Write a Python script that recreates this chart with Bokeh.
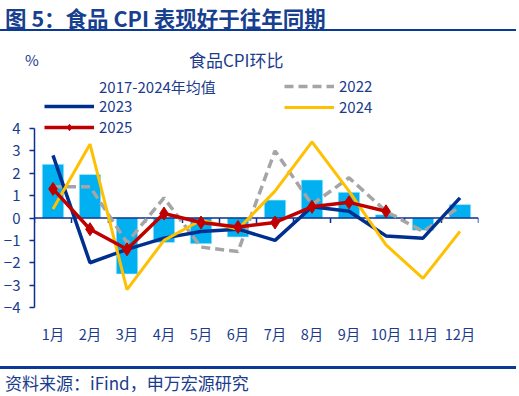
from bokeh.plotting import figure
from bokeh.models import (ColumnDataSource, FixedTicker, Legend, LegendItem, Div, Range1d)
from bokeh.layouts import column
from bokeh.embed import file_html
from bokeh.resources import INLINE

# ---------------- data ----------------
months = ["1月", "2月", "3月", "4月", "5月", "6月", "7月", "8月", "9月", "10月", "11月", "12月"]
avg_2017_2024 = [2.4, 1.95, -2.5, -1.1, -1.15, -0.85, 0.8, 1.7, 1.15, 0.15, -0.55, 0.6]
cpi_2022 = [1.4, 1.4, -1.1, 0.9, -1.3, -1.5, 3.0, 0.6, 1.8, 0.3, -0.6, 0.5]
cpi_2023 = [2.8, -2.0, -1.4, -0.9, -0.6, -0.5, -1.0, 0.5, 0.3, -0.8, -0.9, 0.9]
cpi_2024 = [0.4, 3.3, -3.2, -1.0, -0.1, -0.5, 1.2, 3.4, 1.2, -1.2, -2.7, -0.6]
cpi_2025 = [1.3, -0.5, -1.4, 0.2, -0.2, -0.4, -0.2, 0.5, 0.7, 0.3]
y_ticks = [-4, -3, -2, -1, 0, 1, 2, 3, 4]

title_text = "图 5：食品 CPI 表现好于往年同期"
chart_title = "食品CPI环比"
unit_text = "%"
source_text = "资料来源：iFind，申万宏源研究"

# ---------------- styles ----------------
FONT = "Noto Sans CJK SC"
TXT = "#1B3C8C"
NAVY = "#0A2F8F"
RULE = "#0B3A96"
C_BAR = "#00B0F0"
C_2022 = "#A5A5A5"
C_2023 = "#00308F"
C_2024 = "#FFC000"
C_2025 = "#C00000"

W = 503
H_HEAD, H_MAIN, H_FOOT = 65, 275, 40


def abs_text(txt, left, top, size, color=TXT, weight="normal"):
    return (f'<div style="position:absolute;left:{left}px;top:{top}px;'
            f'font-family:\'{FONT}\';font-size:{size}px;line-height:1;'
            f'font-weight:{weight};color:{color};white-space:nowrap;">{txt}</div>')


def abs_rule(top, height):
    return (f'<div style="position:absolute;left:-8px;top:{top}px;width:{W + 16}px;'
            f'height:{height}px;background:{RULE};"></div>')


# ---------------- header ----------------
head_html = (f'<div style="position:relative;width:{W}px;height:{H_HEAD}px;">'
             + abs_text(title_text, 0, 1.5, 21.5, "#17408F", "bold")
             + abs_rule(24, 2.3)
             + abs_text(unit_text, 20, 47, 15)
             + abs_text(chart_title, 184, 46, 17)
             + '</div>')
head = Div(text=head_html, width=W, height=H_HEAD)

# ---------------- main chart ----------------
n = len(months)
xs = list(range(1, n + 1))

p = figure(width=W, height=H_MAIN, output_backend="svg", toolbar_location=None,
           x_range=Range1d(0.5, n + 0.5), y_range=Range1d(-4, 6.37),
           min_border_left=30, min_border_right=25, min_border_top=0, min_border_bottom=43)
p.outline_line_color = None
p.grid.visible = False

src_bar = ColumnDataSource(dict(x=xs, y=avg_2017_2024))
r_bar = p.vbar(x="x", top="y", bottom=0, width=0.58, source=src_bar,
               fill_color=C_BAR, line_color="#BFEFFF", line_width=0.6)

# zero axis line + category boundary ticks
bounds = [i + 0.5 for i in range(0, n + 1)]
p.segment(x0=[0.5], y0=[0], x1=[n + 0.5], y1=[0], line_color=NAVY, line_width=1.5)
p.segment(x0=bounds, y0=[0] * len(bounds), x1=bounds, y1=[-0.22] * len(bounds),
          line_color=NAVY, line_width=1.5)

r22 = p.line(xs, cpi_2022, line_color=C_2022, line_width=3.5, line_dash="9 5")
r23 = p.line(xs, cpi_2023, line_color=C_2023, line_width=3.5)
r24 = p.line(xs, cpi_2024, line_color=C_2024, line_width=3)
x25 = xs[:len(cpi_2025)]
r25 = p.line(x25, cpi_2025, line_color=C_2025, line_width=3.5)
r25m = p.scatter(x25, cpi_2025, marker="diamond", size=13, fill_color=C_2025,
                 line_color=C_2025)

# legend proxy for bars (thick line swatch)
r_bar_proxy = p.line(x=[], y=[], line_color=C_BAR, line_width=10)

p.xaxis.ticker = FixedTicker(ticks=xs)
p.xaxis.major_label_overrides = {x: m for x, m in zip(xs, months)}
p.xaxis.axis_line_color = None
p.xaxis.major_tick_line_color = None
p.xaxis.minor_tick_line_color = None
p.xaxis.major_tick_out = 0
p.xaxis.major_label_standoff = 15
p.xaxis.major_label_text_font = FONT
p.xaxis.major_label_text_font_size = "14.5px"
p.xaxis.major_label_text_color = TXT

p.yaxis.ticker = FixedTicker(ticks=y_ticks)
p.yaxis.bounds = (-4, 4)
p.yaxis.axis_line_color = NAVY
p.yaxis.axis_line_width = 1.5
p.yaxis.major_tick_line_color = NAVY
p.yaxis.major_tick_line_width = 1.5
p.yaxis.major_tick_out = 5
p.yaxis.major_tick_in = 0
p.yaxis.minor_tick_line_color = None
p.yaxis.major_label_standoff = 9
p.yaxis.major_label_text_font = FONT
p.yaxis.major_label_text_font_size = "15px"
p.yaxis.major_label_text_color = TXT


def add_legend(label, renderers, loc):
    lg = Legend(items=[LegendItem(label=label, renderers=renderers)], location=loc)
    lg.border_line_color = None
    lg.background_fill_alpha = 0
    lg.padding = 0
    lg.margin = 0
    lg.spacing = 0
    lg.glyph_width = 50
    lg.glyph_height = 16
    lg.label_height = 16
    lg.label_standoff = 5
    lg.label_text_font = FONT
    lg.label_text_font_size = "15px"
    lg.label_text_color = TXT
    p.add_layout(lg, "center")


add_legend("2017-2024年均值", [r_bar_proxy], (10, 210))
add_legend("2023", [r23], (10, 191))
add_legend("2025", [r25, r25m], (10, 170))
add_legend("2022", [r22], (250, 211))
add_legend("2024", [r24], (250, 190))

# ---------------- footer ----------------
foot_html = (f'<div style="position:relative;width:{W}px;height:{H_FOOT}px;">'
             + abs_rule(11, 2.5)
             + abs_text(source_text, 0, 18.5, 17)
             + '</div>')
foot = Div(text=foot_html, width=W, height=H_FOOT)

layout = column(head, p, foot, spacing=0)
open("out.html", "w").write(file_html(layout, INLINE))
